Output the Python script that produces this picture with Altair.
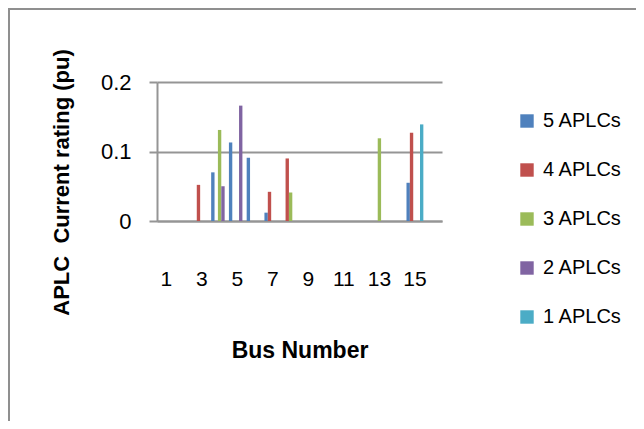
import altair as alt
import pandas as pd

# ---- data ----
buses = list(range(1, 17))
series_names = ["5 APLCs", "4 APLCs", "3 APLCs", "2 APLCs", "1 APLCs"]
aplc5 = [0, 0, 0, 0.070, 0.113, 0.091, 0.012, 0, 0, 0, 0, 0, 0, 0, 0.055, 0]
aplc4 = [0, 0, 0.052, 0, 0, 0, 0.042, 0.090, 0, 0, 0, 0, 0, 0, 0.127, 0]
aplc3 = [0, 0, 0, 0.131, 0, 0, 0, 0.041, 0, 0, 0, 0, 0.119, 0, 0, 0]
aplc2 = [0, 0, 0, 0.050, 0.166, 0, 0, 0, 0, 0, 0, 0, 0, 0, 0, 0]
aplc1 = [0, 0, 0, 0, 0, 0, 0, 0, 0, 0, 0, 0, 0, 0, 0.139, 0]
colors = ["#4F81BD", "#C0504D", "#9BBB59", "#8064A2", "#4BACC6"]
x_tick_values = [1, 3, 5, 7, 9, 11, 13, 15]
y_tick_values = [0, 0.1, 0.2]

rows = []
for name, vals in zip(series_names, [aplc5, aplc4, aplc3, aplc2, aplc1]):
    for b, v in zip(buses, vals):
        rows.append({"bus": b, "series": name, "value": v})
df = pd.DataFrame(rows)

FONT = "Liberation Sans, Arial, sans-serif"
GRAY = "#959595"

bars = alt.Chart(df).mark_bar().encode(
    x=alt.X(
        "bus:O",
        scale=alt.Scale(paddingInner=0.05, paddingOuter=0.05),
        axis=alt.Axis(
            values=x_tick_values,
            title="Bus Number",
            labelAngle=0,
            ticks=False,
            grid=False,
            labelPadding=47,
            labelFontSize=21,
            titleFontSize=23,
            titleFontWeight="bold",
            titleY=136,
            titleBaseline="alphabetic",
            domainColor=GRAY,
            domainWidth=2,
        ),
    ),
    xOffset=alt.XOffset("series:N", sort=series_names),
    y=alt.Y(
        "value:Q",
        scale=alt.Scale(domain=[0, 0.2]),
        axis=alt.Axis(
            values=y_tick_values,
            format="~g",
            title="APLC\u00a0 Current rating (pu)",
            labelFontSize=22,
            labelPadding=18,
            tickSize=8,
            tickColor=GRAY,
            tickWidth=2,
            gridColor=GRAY,
            gridWidth=2,
            domainColor=GRAY,
            domainWidth=2,
            titleFontSize=22,
            titleFontWeight="bold",
            titleX=-89,
            titleY=100,
            titleBaseline="alphabetic",
        ),
    ),
    color=alt.Color(
        "series:N",
        sort=series_names,
        scale=alt.Scale(domain=series_names, range=colors),
        title=None,
        legend=alt.Legend(
            orient="none",
            legendX=360,
            legendY=29,
            symbolType="square",
            symbolSize=180,
            symbolStrokeWidth=0,
            labelFontSize=20,
            labelFont=FONT,
            labelColor="#000000",
            labelOffset=6,
            rowPadding=29,
            padding=0,
        ),
    ),
)

frame = alt.Chart(pd.DataFrame({"k": [0]})).mark_rect(
    fillOpacity=0, stroke="#8f8f8f", strokeWidth=2
).encode(
    x=alt.value(-148), x2=alt.value(700), y=alt.value(-73), y2=alt.value(600)
)

chart = (
    alt.layer(frame, bars)
    .properties(
        width=285,
        height=139,
        autosize="none",
        padding={"left": 149, "top": 74, "right": 194, "bottom": 200},
    )
    .configure_view(stroke="transparent")
    .configure_axis(
        labelFont=FONT,
        titleFont=FONT,
        labelColor="#000000",
        titleColor="#000000",
    )
)

chart.save("out.html", embed_options={"renderer": "svg", "actions": False})
